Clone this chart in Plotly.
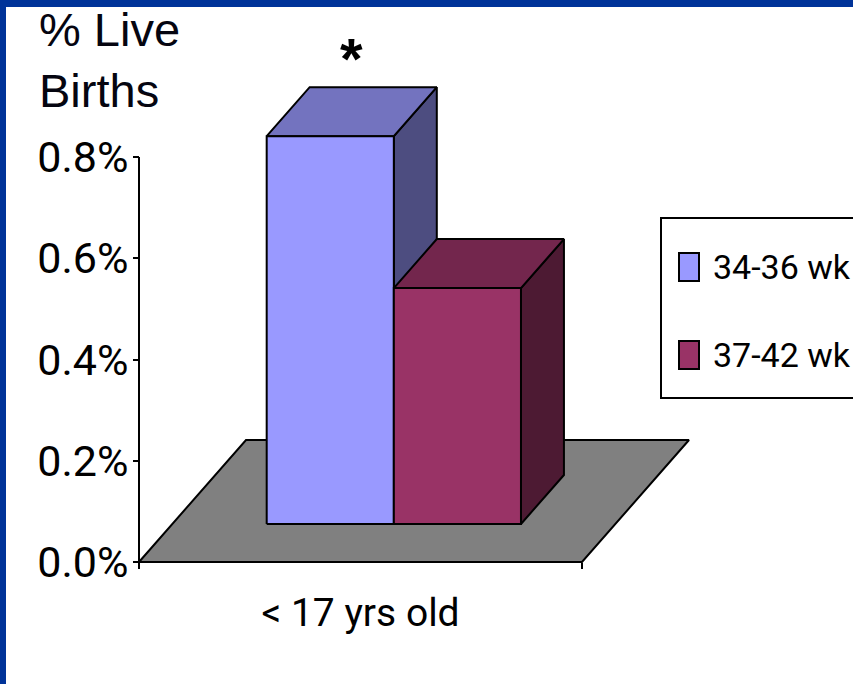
import plotly.graph_objects as go

# data
categories = ["< 17 yrs old"]
series_names = ["34-36 wk", "37-42 wk"]
live_births_pct = [0.766, 0.466]  # % of live births, one value per series
y_tick_vals = [0.0, 0.2, 0.4, 0.6, 0.8]
y_tick_text = ["0.0%", "0.2%", "0.4%", "0.6%", "0.8%"]

FRONT = ["#9999FF", "#993366"]
TOP = ["#7373BF", "#73264D"]
SIDE = ["#4D4D80", "#4D1A33"]
FLOOR = "#808080"
FRAME = "#003399"

W, H = 853, 684
SX = 443.0      # px per category unit
SY = 506.25     # px per 1 %
AXIS_X_PX = 139
ZERO_Y_PX = 562
SLANT = 0.877   # horizontal px per px of depth
FLOOR_DEPTH = 122
BAR_D0, BAR_D1 = 38, 87
BAR_W = 0.287

NARROW = "Roboto, DejaVu Sans Condensed, Liberation Sans"
ARIAL = "Liberation Sans, Arial"


def off(d):
    return d * SLANT / SX, d / SY


def poly(xs, ys, color):
    return go.Scatter(
        x=xs + xs[:1], y=ys + ys[:1], mode="lines", fill="toself",
        fillcolor=color, line=dict(color="black", width=2),
        hoverinfo="skip", showlegend=False,
    )


fig = go.Figure()

# floor
fdx, fdy = off(FLOOR_DEPTH)
n_cat = len(categories)
fig.add_trace(poly(
    [-0.5, n_cat - 0.5, n_cat - 0.5 + fdx, -0.5 + fdx],
    [0, 0, fdy, fdy], FLOOR))

# bars
dx0, dy0 = off(BAR_D0)
dx1, dy1 = off(BAR_D1)
for ci in range(n_cat):
    for i, v in enumerate(live_births_pct):
        x0 = ci - BAR_W * len(live_births_pct) / 2 + i * BAR_W + dx0
        x1 = x0 + BAR_W
        b, t = dy0, dy0 + v
        ddx, ddy = dx1 - dx0, dy1 - dy0
        fig.add_trace(poly([x1, x1 + ddx, x1 + ddx, x1], [b, b + ddy, t + ddy, t], SIDE[i]))
        fig.add_trace(poly([x0, x1, x1 + ddx, x0 + ddx], [t, t, t + ddy, t + ddy], TOP[i]))
        fig.add_trace(poly([x0, x1, x1, x0], [b, b, t, t], FRONT[i]))

# value axis line
fig.add_trace(go.Scatter(
    x=[-0.5, -0.5], y=[0, max(y_tick_vals)], mode="lines",
    line=dict(color="black", width=2), hoverinfo="skip", showlegend=False))

# significance marker over first bar
fig.add_annotation(
    x=-BAR_W + BAR_W / 2 + (dx0 + dx1) / 2, y=dy1 + live_births_pct[0],
    xref="x", yref="y", text="<b>*</b>", showarrow=False, yanchor="bottom", yshift=-6,
    font=dict(family=ARIAL, size=58, color="black"))

fig.add_annotation(
    x=37 / W, y=1 - 1 / H, xref="paper", yref="paper", xanchor="left", yanchor="top",
    align="left", text="% Live<br>Births", showarrow=False,
    font=dict(family=ARIAL, size=47, color="#050510"))

# legend
fig.add_shape(type="rect", xref="paper", yref="paper",
              x0=661 / W, x1=1.05, y0=1 - 398 / H, y1=1 - 218 / H,
              line=dict(color="black", width=2), fillcolor="white")
for i, name in enumerate(series_names):
    top_px = [253, 341][i]
    fig.add_shape(type="rect", xref="paper", yref="paper",
                  x0=679 / W, x1=699 / W, y0=1 - (top_px + 28) / H, y1=1 - top_px / H,
                  line=dict(color="black", width=2), fillcolor=FRONT[i])
    fig.add_annotation(x=711 / W, y=1 - (top_px + 14) / H, xref="paper", yref="paper",
                       xanchor="left", yanchor="middle", text=name, showarrow=False,
                       font=dict(family=NARROW, size=34, color="black"))

# frame
fig.add_shape(type="rect", xref="paper", yref="paper", x0=0, x1=1, y0=1 - 7 / H, y1=1,
              line=dict(width=0), fillcolor=FRAME, layer="above")
fig.add_shape(type="rect", xref="paper", yref="paper", x0=0, x1=6 / W, y0=0, y1=1,
              line=dict(width=0), fillcolor=FRAME, layer="above")

fig.update_layout(
    width=W, height=H, margin=dict(l=0, r=0, t=0, b=0),
    paper_bgcolor="white", plot_bgcolor="white", showlegend=False,
    xaxis=dict(
        domain=[0, 1], anchor="free", position=(H - ZERO_Y_PX) / H,
        range=[-0.5 - AXIS_X_PX / SX, -0.5 + (W - AXIS_X_PX) / SX],
        showgrid=False, zeroline=False, showline=False,
        tickmode="array", tickvals=list(range(n_cat)), ticktext=categories, ticks="",
        ticklabelstandoff=24,
        tickfont=dict(family=NARROW, size=39, color="black"),
        minor=dict(tickmode="array", tickvals=[c - 0.5 for c in range(n_cat + 1)],
                   ticks="outside", ticklen=6, tickwidth=2, tickcolor="black"),
    ),
    yaxis=dict(
        domain=[0, 1], anchor="free", position=AXIS_X_PX / W,
        range=[-(H - ZERO_Y_PX) / SY, ZERO_Y_PX / SY],
        showgrid=False, zeroline=False, showline=False,
        tickmode="array", tickvals=y_tick_vals, ticktext=y_tick_text,
        ticks="outside", ticklen=6, tickwidth=2, tickcolor="black",
        ticklabelstandoff=-4,
        tickfont=dict(family=NARROW, size=43, color="black"),
    ),
)

fig.write_html("out.html", config={"displayModeBar": False},
               post_script="document.body.style.margin='0';document.body.style.overflow='hidden';")
